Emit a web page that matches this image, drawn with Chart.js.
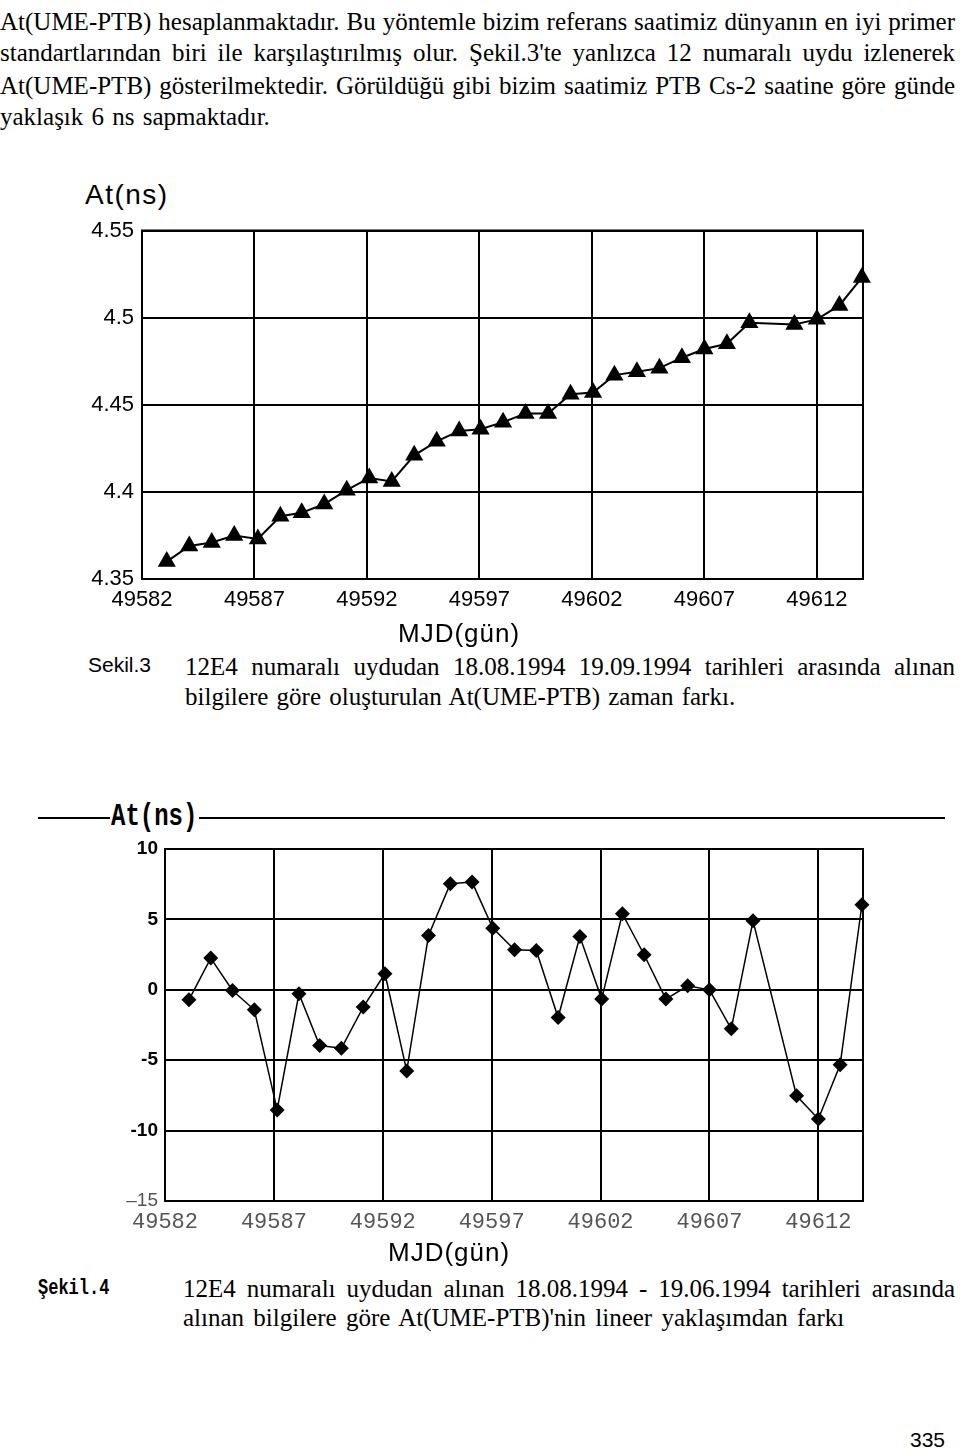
<!DOCTYPE html>
<html lang="tr">
<head>
<meta charset="UTF-8">
<title>Şekil.3 - Şekil.4</title>
<style>
  body {
    margin: 0;
    background: #fff;
    width: 960px;
    height: 1450px;
    position: relative;
    overflow: hidden;
    color: #000;
  }
  .txt { position: absolute; white-space: nowrap; }
  .serif { font-family: "Liberation Serif", serif; font-size: 25px; line-height: 30px; }
  .just { white-space: normal; text-align: justify; text-align-last: justify; }
  .sans { font-family: "Liberation Sans", Arial, sans-serif; }
  .mono { font-family: "Liberation Mono", monospace; font-weight: bold; }
  .rule { position: absolute; height: 0; border-top: 2px solid #000; }
  canvas { position: absolute; left: 0; }
</style>
</head>
<body>
  <!-- page text -->
  <div class="txt serif just" style="left:0;top:7px;width:955px">At(UME-PTB) hesaplanmaktadır. Bu yöntemle bizim referans saatimiz dünyanın en iyi primer</div>
  <div class="txt serif just" style="left:0;top:38px;width:955px">standartlarından biri ile karşılaştırılmış olur. Şekil.3'te yanlızca 12 numaralı uydu izlenerek</div>
  <div class="txt serif just" style="left:0;top:71px;width:955px">At(UME-PTB) gösterilmektedir. Görüldüğü gibi bizim saatimiz PTB Cs-2 saatine göre günde</div>
  <div class="txt serif" style="left:0;top:102px;word-spacing:2px">yaklaşık 6 ns sapmaktadır.</div>

  <!-- figure 3 -->
  <div class="txt sans" style="left:85px;top:178px;font-size:28px;line-height:34px;letter-spacing:1.5px">At(ns)</div>
  <canvas id="chart1" width="960" height="400" style="top:220px"></canvas>
  <div class="txt sans" style="left:398px;top:617px;font-size:26px;line-height:32px;letter-spacing:1px">MJD(gün)</div>
  <div class="txt sans" style="left:88px;top:652px;font-size:21px;line-height:26px">Sekil.3</div>
  <div class="txt serif just" style="left:185px;top:652px;width:770px">12E4 numaralı uydudan 18.08.1994 19.09.1994 tarihleri arasında alınan</div>
  <div class="txt serif" style="left:185px;top:682px;word-spacing:2px">bilgilere göre oluşturulan At(UME-PTB) zaman farkı.</div>

  <!-- figure 4 -->
  <div class="rule" style="left:38px;top:817px;width:72px"></div>
  <div class="txt mono" style="left:111px;top:802px;font-size:24px;line-height:30px;transform:scaleY(1.3)">At(ns)</div>
  <div class="rule" style="left:199px;top:817px;width:746px"></div>
  <canvas id="chart2" width="960" height="400" style="top:840px"></canvas>
  <div class="txt sans" style="left:388px;top:1236px;font-size:26px;line-height:32px;letter-spacing:1px">MJD(gün)</div>
  <div class="txt mono" style="left:38px;top:1277px;font-size:17px;line-height:24px;transform:scaleY(1.35)">Şekil.4</div>
  <div class="txt serif just" style="left:183px;top:1274px;width:772px">12E4 numaralı uydudan alınan 18.08.1994 - 19.06.1994 tarihleri arasında</div>
  <div class="txt serif" style="left:183px;top:1303px;word-spacing:3px">alınan bilgilere göre At(UME-PTB)'nin lineer yaklaşımdan farkı</div>

  <div class="txt sans" style="left:910px;top:1427px;font-size:21px;line-height:26px">335</div>

  <script src="https://cdn.jsdelivr.net/npm/chart.js"></script>
  <script>
    // MJD of each measurement (day 49610 is missing)
    const mjd = [49583.1, 49584.1, 49585.1, 49586.1, 49587.15, 49588.15, 49589.1, 49590.1,
                 49591.1, 49592.1, 49593.1, 49594.1, 49595.1, 49596.1, 49597.05, 49598.05,
                 49599.05, 49600.05, 49601.05, 49602.05, 49603.0, 49604.0, 49605.0, 49606.0,
                 49607.0, 49608.0, 49609.0, 49611.0, 49612.0, 49613.0, 49614.0];

    // Sekil.3: At(UME-PTB) in ns
    const atNs = [4.360, 4.369, 4.371, 4.375, 4.373, 4.386, 4.388, 4.393, 4.401, 4.408, 4.406,
                  4.421, 4.429, 4.435, 4.436, 4.440, 4.445, 4.445, 4.456, 4.457, 4.467, 4.469,
                  4.471, 4.477, 4.482, 4.485, 4.497, 4.496, 4.499, 4.507, 4.523];

    // Sekil.4: difference from linear fit in ns
    const linDiff = [-0.71, 2.25, -0.05, -1.42, -8.53, -0.28, -3.96, -4.15, -1.23, 1.14, -5.76,
                     3.86, 7.53, 7.65, 4.38, 2.84, 2.79, -1.97, 3.79, -0.66, 5.40, 2.49,
                     -0.66, 0.28, 0.0, -2.77, 4.90, -7.53, -9.17, -5.33, 6.04];

    const xTicks = [49582, 49587, 49592, 49597, 49602, 49607, 49612];
    const yTicks1 = [4.35, 4.4, 4.45, 4.5, 4.55];
    const yTicks2 = [-15, -10, -5, 0, 5, 10];

    // closed box around the plot area
    const frame = {
      id: 'frame',
      afterDraw(chart) {
        const a = chart.chartArea, ctx = chart.ctx;
        ctx.save();
        ctx.strokeStyle = '#000';
        ctx.lineWidth = 2;
        ctx.strokeRect(a.left, a.top, a.right - a.left, a.bottom - a.top);
        ctx.restore();
      }
    };

    const gridOpts = { color: '#000', lineWidth: 2, drawTicks: false };

    // fixed axis sizes so the plot area lands where the figure has it
    const fixY = w => s => { s.width = w; s.paddingTop = 0; s.paddingBottom = 0; };
    const fixX = h => s => { s.height = h; s.paddingLeft = 0; s.paddingRight = 0; };

    new Chart(document.getElementById('chart1'), {
      type: 'line',
      data: {
        datasets: [{
          data: mjd.map((x, i) => ({ x: x, y: atNs[i] })),
          borderColor: '#000',
          borderWidth: 2,
          pointStyle: 'triangle',
          pointRadius: 10.5,
          pointBackgroundColor: '#000',
          pointBorderColor: '#000',
          pointBorderWidth: 0,
          clip: false
        }]
      },
      options: {
        responsive: false,
        animation: false,
        layout: { padding: { top: 8, right: 97, left: 0, bottom: 0 } },
        plugins: { legend: { display: false }, tooltip: { enabled: false } },
        scales: {
          x: {
            type: 'linear', min: 49582, max: 49614.05,
            afterBuildTicks: s => { s.ticks = xTicks.map(v => ({ value: v })); },
            afterFit: fixX(41),
            grid: gridOpts,
            border: { color: '#000', width: 2 },
            ticks: {
              padding: 8, color: '#000', autoSkip: false, maxRotation: 0,
              font: { family: 'Liberation Sans', size: 22 },
              callback: v => String(v)
            }
          },
          y: {
            min: 4.35, max: 4.55,
            afterBuildTicks: s => { s.ticks = yTicks1.map(v => ({ value: v })); },
            afterFit: fixY(142),
            grid: gridOpts,
            border: { color: '#000', width: 2 },
            ticks: {
              padding: 8, color: '#000',
              font: { family: 'Liberation Sans', size: 22 },
              callback: v => String(v)
            }
          }
        }
      },
      plugins: [frame]
    });

    new Chart(document.getElementById('chart2'), {
      type: 'line',
      data: {
        datasets: [{
          data: mjd.map((x, i) => ({ x: x, y: linDiff[i] })),
          borderColor: '#000',
          borderWidth: 1.5,
          pointStyle: 'rectRot',
          pointRadius: 7.5,
          pointBackgroundColor: '#000',
          pointBorderColor: '#000',
          pointBorderWidth: 0,
          clip: false
        }]
      },
      options: {
        responsive: false,
        animation: false,
        layout: { padding: { top: 9, right: 97, left: 0, bottom: 0 } },
        plugins: { legend: { display: false }, tooltip: { enabled: false } },
        scales: {
          x: {
            type: 'linear', min: 49582, max: 49614.05,
            afterBuildTicks: s => { s.ticks = xTicks.map(v => ({ value: v })); },
            afterFit: fixX(39),
            grid: gridOpts,
            border: { color: '#000', width: 2 },
            ticks: {
              padding: 8, color: '#555', autoSkip: false, maxRotation: 0,
              font: { family: 'Liberation Mono', size: 22 },
              callback: v => String(v)
            }
          },
          y: {
            min: -15, max: 10,
            afterBuildTicks: s => { s.ticks = yTicks2.map(v => ({ value: v })); },
            afterFit: fixY(165),
            grid: gridOpts,
            border: { color: '#000', width: 2 },
            ticks: {
              padding: 7,
              color: ctx => ctx.tick && ctx.tick.value === -15 ? '#555' : '#000',
              font: ctx => ctx.tick && ctx.tick.value === -15
                ? { family: 'Liberation Sans', size: 19 }
                : { family: 'Liberation Sans', size: 19, weight: 'bold' },
              callback: v => v === -15 ? '\u201315' : String(v)
            }
          }
        }
      },
      plugins: [frame]
    });
  </script>
</body>
</html>
